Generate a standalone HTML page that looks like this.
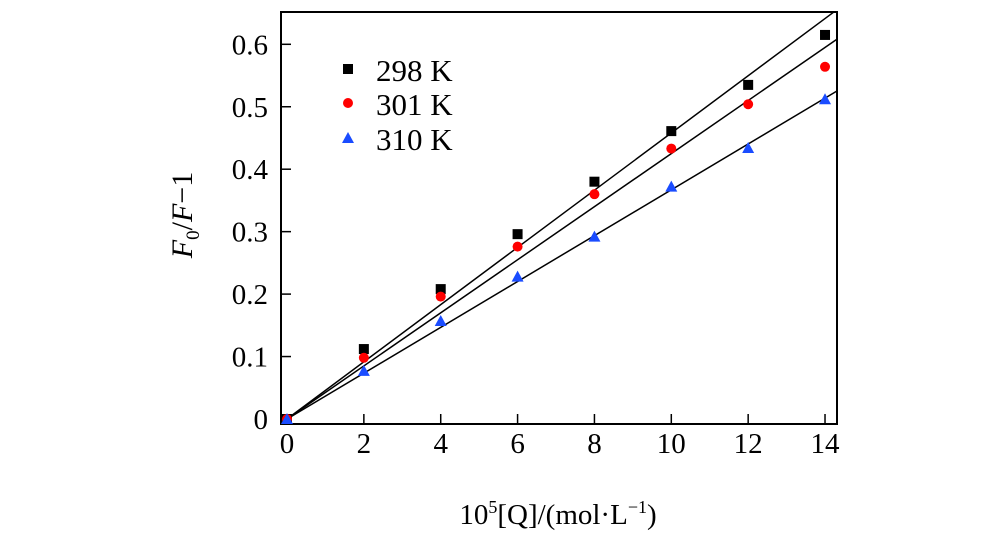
<!DOCTYPE html>
<html><head><meta charset="utf-8"><style>
body{margin:0;background:#fff;width:1000px;height:553px;overflow:hidden}
text{font-family:"Liberation Serif",serif;fill:#000}
</style></head><body>
<svg id="chart" width="1000" height="553" xmlns="http://www.w3.org/2000/svg">
<rect x="281" y="12" width="556" height="412" fill="none" stroke="#000" stroke-width="2"/>
<g id="axes"></g><g id="fits"></g><g id="marks"></g>
<text x="558" y="524" font-size="29" text-anchor="middle">10<tspan font-size="18" dy="-11">5</tspan><tspan dy="11">[Q]/(mol·L</tspan><tspan font-size="18" dy="-11">−1</tspan><tspan dy="11">)</tspan></text>
<text transform="translate(192,215) rotate(-90)" font-size="30" text-anchor="middle"><tspan font-style="italic">F</tspan><tspan font-size="19" dy="7">0</tspan><tspan dy="-7">/</tspan><tspan font-style="italic">F</tspan>−1</text>
<g>
<rect x="343" y="64" width="10" height="10" fill="#000"/>
<text x="376" y="81" font-size="31">298 K</text>
<circle cx="348" cy="103" r="5" fill="#f00"/>
<text x="376" y="115" font-size="31">301 K</text>
<polygon points="348,132 354,143 342,143" fill="#1a4cff"/>
<text x="376" y="150" font-size="31">310 K</text>
</g>
</svg>
<script>
const xVals=[0,2,4,6,8,10,12,14];
const s298=[0,0.112,0.208,0.296,0.380,0.461,0.535,0.615];
const s301=[0,0.098,0.196,0.276,0.360,0.433,0.504,0.564];
const s310=[0,0.077,0.157,0.228,0.292,0.372,0.434,0.512];
const slopes=[0.0458,0.0425,0.0367];
const xTicks=[0,2,4,6,8,10,12,14];
const yTicks=[0,0.1,0.2,0.3,0.4,0.5,0.6];
const yTickLabels=["0","0.1","0.2","0.3","0.4","0.5","0.6"];
const NS="http://www.w3.org/2000/svg";
const X=v=>287+v*38.43, Y=v=>419-v*624.5;
function mk(tag,attrs,parent){const e=document.createElementNS(NS,tag);for(const k in attrs)e.setAttribute(k,attrs[k]);document.getElementById(parent).appendChild(e);return e;}
xTicks.forEach(t=>{
 const l=mk('line',{x1:X(t),x2:X(t),y1:424,y2:414,stroke:'#000','stroke-width':1.5},'axes');
 
 
 const tx=mk('text',{x:X(t),y:453,'font-size':29,'text-anchor':'middle'},'axes');tx.textContent=t;
 
 
});
yTicks.forEach((t,i)=>{
 const l=mk('line',{x1:281,x2:291,y1:Y(t),y2:Y(t),stroke:'#000','stroke-width':1.5},'axes');
 
 
 const tx=mk('text',{x:268,y:Y(t)+10,'font-size':29,'text-anchor':'end'},'axes');tx.textContent=yTickLabels[i];
 
 
});
const fitNames=['fit-298','fit-301','fit-310'];
slopes.forEach((s,i)=>{
 let xe=14.3; if(s*xe>0.652) xe=0.652/s;
 const l=mk('line',{x1:X(0.1),y1:Y(0.1*s),x2:X(xe),y2:Y(s*xe),stroke:'#000','stroke-width':1.5},'fits');
 
 
});
xVals.forEach((x,i)=>{
 const a=mk('rect',{x:X(x)-5,y:Y(s298[i])-5,width:10,height:10,fill:'#000'},'marks');
 
 
 const b=mk('circle',{cx:X(x),cy:Y(s301[i]),r:5,fill:'#f00'},'marks');
 
 
 const cx=X(x),cy=Y(s310[i]);
 const c=mk('polygon',{points:`${cx},${cy-6} ${cx+6},${cy+5} ${cx-6},${cy+5}`,fill:'#1a4cff'},'marks');
 
 
});
</script>
</body></html>
